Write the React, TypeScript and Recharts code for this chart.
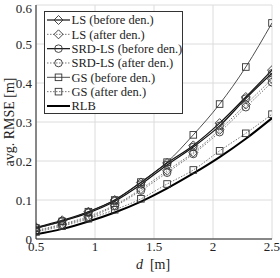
import React from 'react';
import { LineChart, Line, XAxis, YAxis, CartesianGrid, Legend } from 'recharts';

const dValues = [0.5, 0.722, 0.944, 1.167, 1.389, 1.611, 1.833, 2.056, 2.278, 2.5];
const lsBefore = [0.030, 0.048, 0.070, 0.100, 0.145, 0.195, 0.240, 0.297, 0.364, 0.433];
const lsAfter = [0.022, 0.038, 0.058, 0.087, 0.128, 0.175, 0.222, 0.280, 0.345, 0.410];
const srdBefore = [0.028, 0.046, 0.067, 0.097, 0.140, 0.190, 0.236, 0.290, 0.360, 0.425];
const srdAfter = [0.020, 0.036, 0.055, 0.084, 0.124, 0.170, 0.218, 0.274, 0.338, 0.402];
const gsBefore = [0.028, 0.045, 0.070, 0.100, 0.146, 0.197, 0.267, 0.346, 0.441, 0.554];
const gsAfter = [0.018, 0.033, 0.052, 0.075, 0.103, 0.141, 0.177, 0.226, 0.271, 0.320];
const rlb = [0.012, 0.026, 0.045, 0.068, 0.096, 0.130, 0.168, 0.210, 0.257, 0.310];

const xTicks = [0.5, 1, 1.5, 2, 2.5];
const yTicks = [0, 0.1, 0.2, 0.3, 0.4, 0.5, 0.6];

const data = dValues.map((d, i) => ({
  d,
  lsBefore: lsBefore[i],
  lsAfter: lsAfter[i],
  srdBefore: srdBefore[i],
  srdAfter: srdAfter[i],
  gsBefore: gsBefore[i],
  gsAfter: gsAfter[i],
  rlb: rlb[i],
}));

const FONT = '"Liberation Serif", "DejaVu Serif", serif';

type MarkerKind = 'diamond' | 'circle' | 'square' | 'none';

const series: { key: string; name: string; marker: MarkerKind; color: string; width: number; dash?: string }[] = [
  { key: 'lsBefore', name: 'LS (before den.)', marker: 'diamond', color: '#111', width: 1.2 },
  { key: 'lsAfter', name: 'LS (after den.)', marker: 'diamond', color: '#777', width: 1, dash: '1.5 1.5' },
  { key: 'srdBefore', name: 'SRD-LS (before den.)', marker: 'circle', color: '#111', width: 1.2 },
  { key: 'srdAfter', name: 'SRD-LS (after den.)', marker: 'circle', color: '#777', width: 1, dash: '1.5 1.5' },
  { key: 'gsBefore', name: 'GS (before den.)', marker: 'square', color: '#222', width: 0.8 },
  { key: 'gsAfter', name: 'GS (after den.)', marker: 'square', color: '#777', width: 1, dash: '1.5 1.5' },
  { key: 'rlb', name: 'RLB', marker: 'none', color: '#000', width: 2 },
];

function Marker({ kind, cx, cy, color }: { kind: MarkerKind; cx: number; cy: number; color: string }) {
  if (kind === 'diamond') {
    return <path d={`M${cx},${cy - 4.5}L${cx + 4.5},${cy}L${cx},${cy + 4.5}L${cx - 4.5},${cy}Z`} fill="none" stroke={color} strokeWidth={0.9} />;
  }
  if (kind === 'circle') {
    return <circle cx={cx} cy={cy} r={3.8} fill="none" stroke={color} strokeWidth={0.9} />;
  }
  if (kind === 'square') {
    return <rect x={cx - 3.3} y={cy - 3.3} width={6.6} height={6.6} fill="none" stroke={color} strokeWidth={0.9} />;
  }
  return null;
}

const makeDot = (kind: MarkerKind) => (props: any) => {
  const { cx, cy, index } = props;
  if (kind === 'none' || cx == null || cy == null) return <g key={`n-${index}`} />;
  return (
    <g key={`m-${kind}-${index}`}>
      <Marker kind={kind} cx={cx} cy={cy} color="#333" />
    </g>
  );
};

const LegendBox = () => {
  const w = 139;
  const h = 103;
  return (
    <svg width={w} height={h} style={{ display: 'block' }}>
      <rect x={0.5} y={0.5} width={w - 1} height={h - 1} fill="#fff" stroke="#333" strokeWidth={1} />
      {series.map((s, i) => {
        const y = 9 + 14.33 * i;
        return (
          <g key={s.key}>
            <line x1={3} x2={26} y1={y} y2={y} stroke={s.color} strokeWidth={s.width} strokeDasharray={s.dash} />
            <Marker kind={s.marker} cx={14.5} cy={y} color="#333" />
            <text x={27.5} y={y + 4.3} fontFamily={FONT} fontSize={12.5} fill="#222">
              {s.name}
            </text>
          </g>
        );
      })}
    </svg>
  );
};

export default function App() {
  return (
    <div style={{ position: 'absolute', left: 0, top: 0, width: 280, height: 278, background: '#fff', fontFamily: FONT }}>
      <LineChart width={280} height={278} data={data} margin={{ top: 5, right: 8, bottom: 0, left: 0 }} style={{ fontFamily: FONT }}>
        <CartesianGrid stroke="#dcdcdc" strokeWidth={1} vertical horizontal />
        <XAxis
          dataKey="d"
          type="number"
          domain={[0.5, 2.5]}
          ticks={xTicks}
          allowDataOverflow
          height={39}
          tickLine={false}
          tickSize={0}
          axisLine={{ stroke: '#222' }}
          tick={{ fontFamily: FONT, fontSize: 13, fill: '#222' }}
          tickMargin={3}
          tickFormatter={(v: number) => String(v)}
        />
        <XAxis xAxisId="top" orientation="top" dataKey="d" type="number" domain={[0.5, 2.5]} height={0} tick={false} tickLine={false} axisLine={{ stroke: '#222' }} />
        <YAxis
          type="number"
          domain={[0, 0.6]}
          ticks={yTicks}
          width={36}
          tickLine={false}
          tickSize={0}
          axisLine={{ stroke: '#222' }}
          tick={{ fontFamily: FONT, fontSize: 13, fill: '#222' }}
          tickMargin={4}
          tickFormatter={(v: number) => String(v)}
        />
        <YAxis yAxisId="right" orientation="right" type="number" domain={[0, 0.6]} width={0} tick={false} tickLine={false} axisLine={{ stroke: '#222' }} />
        {series.map((s) => (
          <Line
            key={s.key}
            dataKey={s.key}
            name={s.name}
            type="monotone"
            stroke={s.color}
            strokeWidth={s.width}
            strokeDasharray={s.dash}
            dot={makeDot(s.marker)}
            activeDot={false}
            isAnimationActive={false}
          />
        ))}
        <Legend
          layout="vertical"
          verticalAlign="middle"
          align="center"
          content={() => <LegendBox />}
          wrapperStyle={{ position: 'absolute', left: 44, top: 11, width: 139, height: 103 }}
        />
      </LineChart>
      <svg width={280} height={278} style={{ position: 'absolute', left: 0, top: 0, pointerEvents: 'none' }}>
        <g transform="translate(14 122)">
          <g transform="rotate(-90)">
            <text x={0} y={0} textAnchor="middle" fontFamily={FONT} fontSize={14} fill="#222">
              avg. RMSE [m]
            </text>
          </g>
        </g>
        <text x={153} y={269} textAnchor="middle" fontFamily={FONT} fontSize={14} fill="#222">
          <tspan fontStyle="italic">d</tspan>
          <tspan>{'\u00a0\u00a0[m]'}</tspan>
        </text>
      </svg>
    </div>
  );
}
